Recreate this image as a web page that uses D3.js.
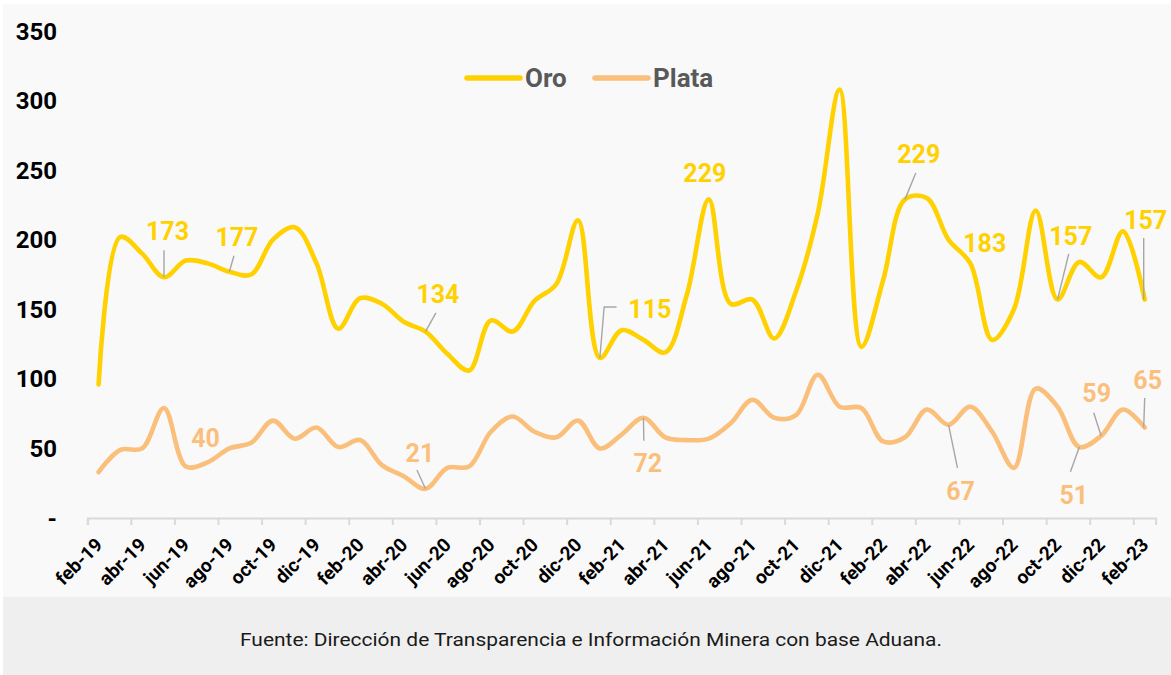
<!DOCTYPE html>
<html lang="es">
<head>
  <meta charset="UTF-8">
  <title>Oro y Plata</title>
  <script src="https://d3js.org/d3.v7.min.js"></script>
  <style>
    body { margin: 0; background: #fff; }
    text { font-family: Roboto, "Open Sans", sans-serif; }
    .ytick { font-size: 24px; font-weight: 700; fill: #000; }
    .xtick { font-size: 19px; font-weight: 700; fill: #000; }
    .legend { font-size: 26px; font-weight: 700; fill: #595959; }
    .lbl { font-size: 25px; font-weight: 700; }
    .leader { stroke: #a6a6a6; stroke-width: 1.4; fill: none; }
  </style>
</head>
<body>
  <svg width="1171" height="675"></svg>

  <script>
    // meses feb-19 .. feb-23
    const months = [
      "feb-19","mar-19","abr-19","may-19","jun-19","jul-19","ago-19","sep-19","oct-19","nov-19","dic-19",
      "ene-20","feb-20","mar-20","abr-20","may-20","jun-20","jul-20","ago-20","sep-20","oct-20","nov-20","dic-20",
      "ene-21","feb-21","mar-21","abr-21","may-21","jun-21","jul-21","ago-21","sep-21","oct-21","nov-21","dic-21",
      "ene-22","feb-22","mar-22","abr-22","may-22","jun-22","jul-22","ago-22","sep-22","oct-22","nov-22","dic-22",
      "ene-23","feb-23"
    ];

    const oro = [
      96, 202, 190, 173, 185, 183, 177, 175, 200, 209, 183,
      136, 158, 154, 141, 134, 118, 106, 142, 134, 156, 168, 214,
      115, 135, 128, 119, 161, 229, 154, 157, 129, 163, 219, 308,
      123, 171, 229, 230, 200, 183, 128, 150, 221, 157, 184, 173,
      206, 157
    ];

    const plata = [
      33, 49, 50, 79, 37, 40, 50, 54, 70, 57, 65,
      51, 56, 38, 30, 21, 36, 37, 62, 73, 62, 58, 70,
      50, 60, 72, 58, 56, 57, 68, 85, 72, 74, 103, 80,
      79, 55, 58, 78, 67, 80, 62, 36, 93, 80, 51, 59,
      78, 65
    ];

    const yTicks = [0, 50, 100, 150, 200, 250, 300, 350];
    const seriesNames = ["Oro", "Plata"];
    const source = "Fuente: Dirección de Transparencia e Información Minera con base Aduana.";

    // which months carry a data label
    const oroLabelIdx = [3, 6, 15, 23, 28, 37, 40, 44, 48];
    const plataLabelIdx = [5, 15, 25, 39, 45, 46, 48];

    // label placement relative to the point: text offset + leader polyline
    const oroLabelPos = [
      {dx: 3.5, dy: -37, lead: [[0, -27], [0, 0]]},
      {dx: 7.6, dy: -26, lead: [[4.6, -16], [0, 0]]},
      {dx: 12.4, dy: -28.6, lead: [[10.4, -18.6], [0, 0]]},
      {dx: 50, dy: -40, lead: [[16.7, -51], [4.3, -51], [0, 0]]},
      {dx: -4, dy: -17.4, lead: null},
      {dx: 13.8, dy: -36.4, lead: [[10.8, -26.4], [0, 0]]},
      {dx: 14.4, dy: -11.4, lead: null},
      {dx: 13.2, dy: -54.6, lead: [[11.2, -45.6], [0, 0]]},
      {dx: 1, dy: -70.6, lead: [[-1, -61.6], [-1, 0]]}
    ];
    const plataLabelPos = [
      {dx: -2, dy: -15, lead: null},
      {dx: -5.6, dy: -26.8, lead: [[-8.6, -18.8], [0, 0]]},
      {dx: 4.4, dy: 54, lead: [[0.4, 23], [0, 0]]},
      {dx: 12, dy: 75, lead: [[8.9, 43], [0, 0]]},
      {dx: -5.6, dy: 57, lead: [[-8.9, 24.7], [0, 0]]},
      {dx: -4.4, dy: -34, lead: [[-7.4, -23.2], [0, 0]]},
      {dx: 3, dy: -38.6, lead: [[0, -29.6], [-1, 0]]}
    ];

    const colors = {Oro: "#ffd100", Plata: "#fbbf7c"};

    const svg = d3.select("svg");

    // backgrounds
    svg.append("rect").attr("x", 3).attr("y", 4).attr("width", 1168).attr("height", 593).attr("fill", "#f9f9f9");
    svg.append("rect").attr("x", 3).attr("y", 597).attr("width", 1168).attr("height", 78).attr("fill", "#efefef");

    const x = d3.scaleBand().domain(months).range([87.7, 1155.6]);
    const bw = x.bandwidth();
    const cx = m => x(m) + bw / 2;
    const y = d3.scaleLinear().domain([0, 350]).range([518, 31]);

    // y labels
    svg.append("g").selectAll("text")
      .data(yTicks)
      .join("text")
      .attr("class", "ytick")
      .attr("x", 57)
      .attr("y", d => y(d))
      .attr("dy", "0.36em")
      .attr("text-anchor", "end")
      .text(d => d === 0 ? "-" : d);

    // x axis
    const xAxis = svg.append("g")
      .attr("transform", "translate(0,518)")
      .call(d3.axisBottom(x)
        .tickValues(months.filter((d, i) => i % 2 === 0))
        .tickSizeOuter(0)
        .tickSize(7));
    xAxis.select(".domain").attr("stroke", "#d9d9d9").attr("stroke-width", 2);
    xAxis.selectAll(".tick line")
      .attr("stroke", "#d9d9d9").attr("stroke-width", 2)
      .attr("x1", -bw / 2).attr("x2", -bw / 2);
    xAxis.selectAll(".tick text")
      .attr("class", "xtick")
      .attr("font-family", null).attr("font-size", null)
      .attr("fill", null)
      .attr("text-anchor", "end")
      .attr("x", 0).attr("y", 0).attr("dy", 0)
      .attr("transform", "translate(5,28) rotate(-45)");

    // lines
    const line = d3.line()
      .x((d, i) => cx(months[i]))
      .y(d => y(d))
      .curve(d3.curveCatmullRom.alpha(0.5));

    [["Oro", oro], ["Plata", plata]].forEach(([name, vals]) => {
      svg.append("path")
        .datum(vals)
        .attr("d", line)
        .attr("fill", "none")
        .attr("stroke", colors[name])
        .attr("stroke-width", 4.6)
        .attr("stroke-linecap", "round")
        .attr("stroke-linejoin", "round");
    });

    // data labels
    function labels(vals, idx, pos, color) {
      const g = svg.append("g");
      idx.forEach((i, k) => {
        const px = cx(months[i]), py = y(vals[i]);
        const p = pos[k];
        if (p.lead) {
          g.append("polyline")
            .attr("class", "leader")
            .attr("points", p.lead.map(q => [px + q[0], py + q[1]].join(",")).join(" "));
        }
        g.append("text")
          .attr("class", "lbl")
          .attr("x", px + p.dx)
          .attr("y", py + p.dy)
          .attr("text-anchor", "middle")
          .attr("fill", color)
          .text(vals[i]);
      });
    }
    labels(oro, oroLabelIdx, oroLabelPos, colors.Oro);
    labels(plata, plataLabelIdx, plataLabelPos, colors.Plata);

    // legend
    const legendX = [467, 595];
    seriesNames.forEach((name, k) => {
      const lg = svg.append("g").attr("transform", `translate(${legendX[k]},78)`);
      lg.append("line")
        .attr("x1", 0).attr("x2", 53)
        .attr("stroke", colors[name]).attr("stroke-width", 5.5)
        .attr("stroke-linecap", "round");
      lg.append("text")
        .attr("class", "legend")
        .attr("x", 58).attr("y", 9)
        .text(name);
    });

    // source
    svg.append("text")
      .attr("x", 591).attr("y", 646)
      .attr("text-anchor", "middle")
      .attr("font-size", 18)
      .attr("fill", "#1a1a1a")
      .attr("textLength", 702)
      .attr("lengthAdjust", "spacingAndGlyphs")
      .text(source);
  </script>
</body>
</html>
